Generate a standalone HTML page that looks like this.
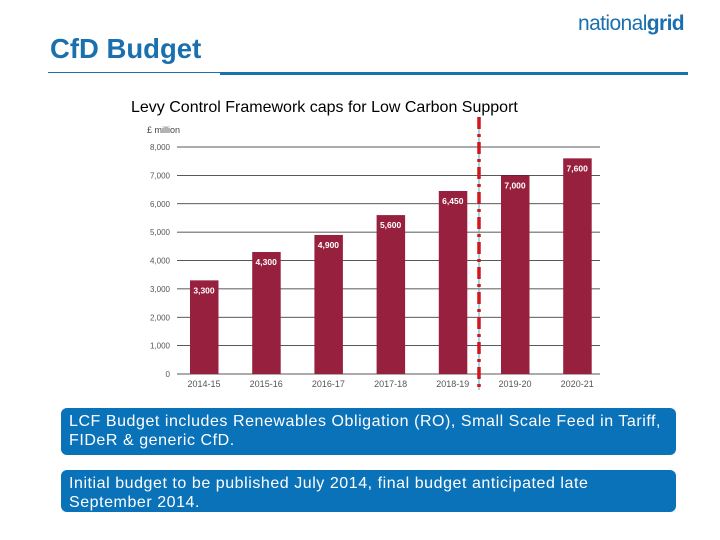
<!DOCTYPE html>
<html><head><meta charset="utf-8"><style>
body{margin:0;width:720px;height:540px;background:#fff;font-family:"Liberation Sans",sans-serif;position:relative;overflow:hidden}
.abs{position:absolute}
.box{position:absolute;left:61px;width:615px;background:#0a72b8;border-radius:6px;color:#fff;font-size:16px;letter-spacing:0.55px;line-height:19px;padding:4px 8px;box-sizing:border-box;white-space:nowrap}
</style></head><body>
<div class="abs" style="left:50px;top:33px;font-size:27.5px;font-weight:bold;color:#1a6fae">CfD Budget</div>
<div class="abs" style="left:578px;top:12px;font-size:21px;color:#1a6fae;letter-spacing:-0.6px">national<b>grid</b></div>
<div class="abs" style="left:48px;top:72px;width:172px;height:1px;background:#1a6fae"></div>
<div class="abs" style="left:220px;top:72px;width:468px;height:3px;background:#1a6fae"></div>
<div class="abs" style="left:131px;top:99px;font-size:16px;color:#000">Levy Control Framework caps for Low Carbon Support</div>
<svg class="abs" style="left:0;top:0" width="720" height="400">
<g id="g"></g>
</svg>
<div class="box" style="top:408px;height:47px">LCF Budget includes Renewables Obligation (RO), Small Scale Feed in Tariff,<br>FIDeR &amp; generic CfD.</div>
<div class="box" style="top:470px;height:42px">Initial budget to be published July 2014, final budget anticipated late<br>September 2014.</div>
<script>
const categories=["2014-15","2015-16","2016-17","2017-18","2018-19","2019-20","2020-21"];
const values=[3300,4300,4900,5600,6450,7000,7600];
const valueLabels=["3,300","4,300","4,900","5,600","6,450","7,000","7,600"];
const ticks=[0,1000,2000,3000,4000,5000,6000,7000,8000];
const tickLabels=["0","1,000","2,000","3,000","4,000","5,000","6,000","7,000","8,000"];
const NS="http://www.w3.org/2000/svg";
const g=document.getElementById('g');
const y=v=>374-v*(374-147)/8000;
const x=i=>204+i*62.2;
function mk(t,a,txt){const e=document.createElementNS(NS,t);for(const k in a)e.setAttribute(k,a[k]);if(txt!=null)e.textContent=txt;g.appendChild(e);return e;}
let e=mk('text',{x:147,y:133,'font-size':9,fill:'#444'},'£ million');


ticks.forEach((t,i)=>{
 let l=mk('line',{x1:177,x2:600,y1:y(t),y2:y(t),stroke:'#222','stroke-width':0.8});
 
 
 let tx=mk('text',{x:170,y:y(t)+3,'font-size':8,fill:'#555','text-anchor':'end'},tickLabels[i]);
 
 
});
values.forEach((v,i)=>{
 let r=mk('rect',{x:x(i)-14,y:y(v),width:28.5,height:y(0)-y(v),fill:'#98203f'});
 
 
 let t=mk('text',{x:x(i),y:y(v)+13,'font-size':8.5,'font-weight':'bold',fill:'#fff','text-anchor':'middle'},valueLabels[i]);
 
 
 let c=mk('text',{x:x(i),y:387,'font-size':9,fill:'#555','text-anchor':'middle'},categories[i]);
 
 
});
let cl=mk('line',{x1:479,x2:479,y1:117,y2:390,stroke:'#4ab0c8','stroke-width':1});


let dl=mk('line',{x1:479,x2:479,y1:117,y2:390,stroke:'#d0161e','stroke-width':3.5,'stroke-dasharray':'12,5,3,5'});


</script>
</body></html>
